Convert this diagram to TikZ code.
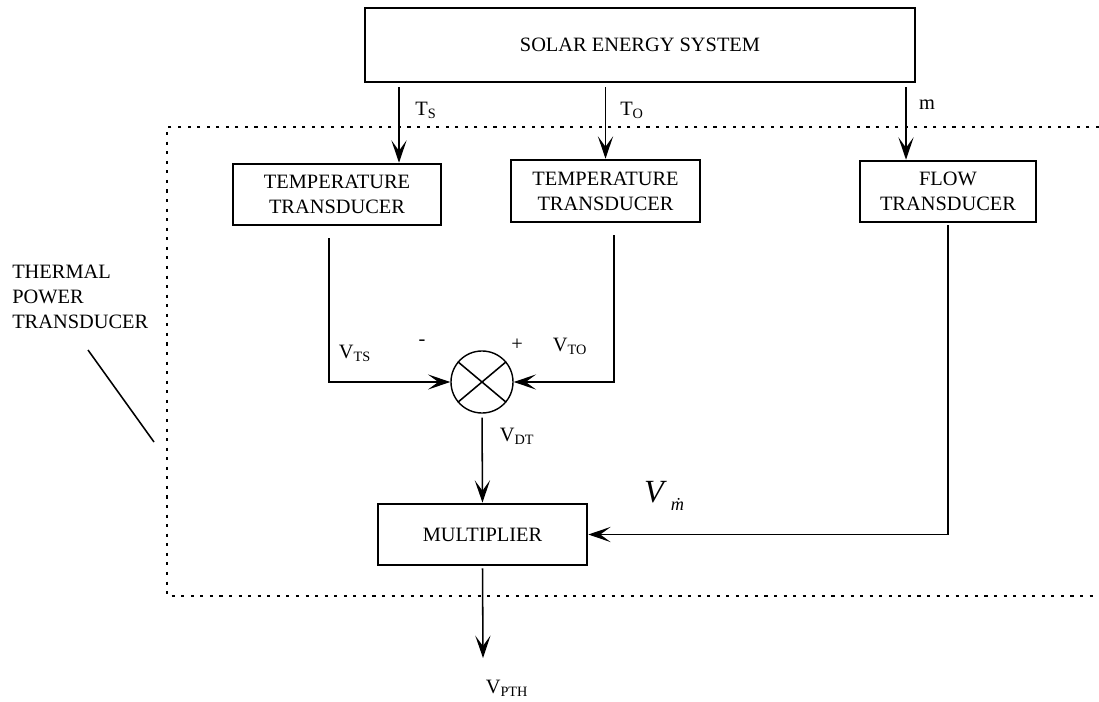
\documentclass[tikz,border=0pt]{standalone}
\usepackage{fontspec}
\setmainfont{Liberation Serif}
\usetikzlibrary{arrows.meta,positioning,calc}

\begin{document}
\begin{tikzpicture}[x=0.025cm,y=-0.025cm,font=\fontsize{14.5}{17.7}\selectfont,
  blk/.style={rectangle,draw=black,line width=1.8pt,fill=white,align=center,inner sep=0},
  sumc/.style={circle,draw=black,line width=1pt,minimum size=1.55cm,inner sep=0},
  wire/.style={line width=1.1pt,black},
  sig/.style={wire,-{Stealth[length=5.6mm,width=3.8mm,inset=2.6mm]}},
  lbl/.style={inner sep=0}]

\useasboundingbox (0,0) rectangle (1099,702);

%% system under test
\node[blk,minimum width=13.75cm,minimum height=1.85cm] (sys) at (640,45) {SOLAR ENERGY SYSTEM};

%% transducers, junction and multiplier
\node[blk,minimum width=5.2cm,minimum height=1.525cm] (tt1) at (337,194.5) {TEMPERATURE\\TRANSDUCER};
\node[blk,minimum width=4.725cm,minimum height=1.55cm] (tt2) at (605.5,191) {TEMPERATURE\\TRANSDUCER};
\node[blk,minimum width=4.4cm,minimum height=1.525cm] (ft) at (948,191.5) {FLOW\\TRANSDUCER};
\node[sumc] (sum) at (482,382) {};
\draw[wire] (sum.140) -- (sum.-40) (sum.220) -- (sum.40);
\node[blk,minimum width=5.225cm,minimum height=1.525cm] (mul) at (482.5,534.5) {MULTIPLIER};

%% columns of the signal lines
\coordinate (cS) at (399,0);
\coordinate (cM) at (906,0);
\coordinate (cL) at (329,0);
\coordinate (cR) at (614,0);
\coordinate (pth) at (483,658);

%% boundary of the thermal power transducer (open to the right)
\draw[line width=1.1pt,dash pattern=on 2.2pt off 4.6pt] (1099,127) -| (167,596) -- (1099,596);

%% measured quantities
\draw[sig,shorten <=3pt] (sys.south -| cS) -- (tt1.north -| cS);
\draw[sig,shorten <=3pt] (sys.south -| tt2.north) -- (tt2.north);
\draw[sig,shorten <=3pt] (sys.south -| cM) -- (ft.north -| cM);

%% signal paths
\draw[sig,shorten <=3mm] (tt1.south -| cL) |- (sum.west);
\draw[sig,shorten <=3mm] (tt2.south -| cR) |- (sum.east);
\draw[sig,shorten <=1mm] (sum.south) -- (mul.north);
\draw[sig,shorten <=0.5mm] (ft.south) |- (mul.east);
\draw[sig,shorten <=0.5mm] (mul.south) -- (pth);

%% labels
\node[lbl] (lTS) at (426,110) {T\textsubscript{S}};
\node[lbl] (lTO) at (632,110) {T\textsubscript{O}};
\node[lbl] (lm) at (927,105) {m};
\node[lbl] (lVTS) at (355,353) {V\textsubscript{TS}};
\node[lbl] (lneg) at (422,343) {-};
\node[lbl] (lpos) at (517,345) {+};
\node[lbl] (lVTO) at (570,346) {V\textsubscript{TO}};
\node[lbl] (lVDT) at (517,436) {V\textsubscript{DT}};
\node[lbl] (lVm) at (664,496) {{\fontsize{23}{23}\selectfont\itshape V}\hspace{5pt}\raisebox{-6pt}{\fontsize{13}{13}\selectfont\itshape \.m}};
\node[lbl] (lVPTH) at (507,688) {V\textsubscript{PTH}};

\node[lbl,align=left,anchor=north west] (tpt) at (12,265) {THERMAL\\POWER\\TRANSDUCER};
\coordinate (p1) at (88,350);
\coordinate (p2) at (154,442);
\draw[wire] (p1) -- (p2);
\end{tikzpicture}
\end{document}
